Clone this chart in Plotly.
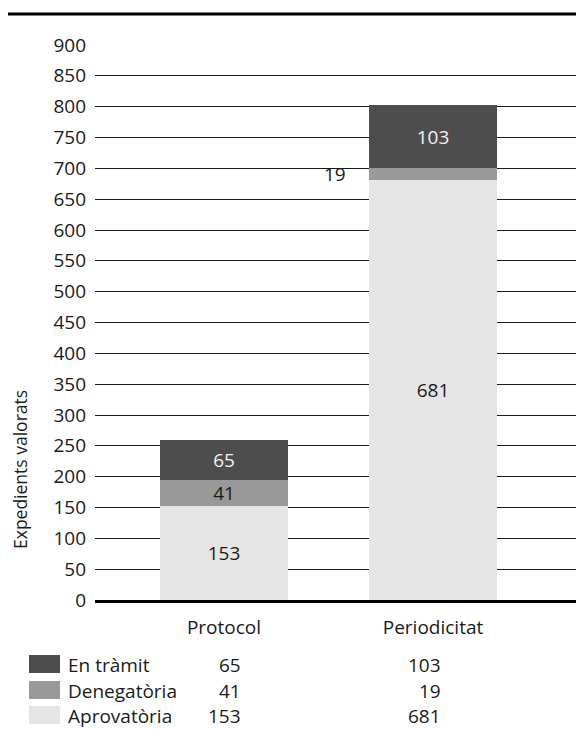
import plotly.graph_objects as go

categories = ["Protocol", "Periodicitat"]
series_names = ["Aprovatòria", "Denegatòria", "En tràmit"]
aprovatoria = [153, 681]
denegatoria = [41, 19]
en_tramit = [65, 103]
series_values = [aprovatoria, denegatoria, en_tramit]
series_colors = ["#e5e5e5", "#999999", "#4d4d4d"]
text_colors = ["#1a1a1a", "#1a1a1a", "#f2f2f2"]
y_ticks = list(range(0, 901, 50))

# page body has an 8px margin: figure is placed at (8, 8)
OFF = 8
PAGE_W, PAGE_H = 584, 729
W, H = PAGE_W - OFF, PAGE_H - OFF
PL, PT, PB = 95, 45, 600          # plot-area edges in page pixels
L, T = PL - OFF, PT - OFF
B = H - (PB - OFF)
R = 0
PW, PH = PAGE_W - PL, PB - PT
FONT = "Open Sans"
FS = 19
BAR_W = 0.608
X0_PX, X_UNIT = 224, 209


def xp(px):
    return (px - PL) / PW


def yp(py):
    return (PB - py) / PH


x_idx = list(range(len(categories)))
fig = go.Figure()
for name, vals, col, tcol in zip(series_names, series_values, series_colors, text_colors):
    fig.add_trace(go.Bar(
        x=x_idx, y=vals, name=name, width=BAR_W,
        marker=dict(color=col, line=dict(width=0)),
        text=[str(v) if v >= 30 else "" for v in vals],
        textposition="inside", insidetextanchor="middle",
        textangle=0, constraintext="none",
        textfont=dict(family=FONT, size=FS, color=tcol),
        hoverinfo="skip", showlegend=False,
    ))

annotations = []
shapes = []
for s, vals in enumerate(series_values):
    for i, v in enumerate(vals):
        if v < 30:
            base = sum(series_values[k][i] for k in range(s))
            annotations.append(dict(
                x=i - BAR_W / 2, y=base + v / 2, xref="x", yref="y",
                text=str(v), showarrow=False, xanchor="right", xshift=-21,
                font=dict(family=FONT, size=FS, color="#1a1a1a")))

annotations.append(dict(
    x=xp(20), y=yp(470), xref="paper", yref="paper", text="Expedients valorats",
    textangle=-90, showarrow=False, xanchor="center", yanchor="middle",
    font=dict(family=FONT, size=17.5, color="#1a1a1a")))

row_y = {"En tràmit": 665, "Denegatòria": 691, "Aprovatòria": 716}
col_right = [243, 443]
for name, vals, col in zip(series_names, series_values, series_colors):
    cy = row_y[name]
    shapes.append(dict(type="rect", xref="paper", yref="paper",
                       x0=xp(29), x1=xp(60), y0=yp(cy - 1 - 9), y1=yp(cy - 1 + 9),
                       fillcolor=col, line=dict(width=0)))
    annotations.append(dict(x=xp(66), y=yp(cy), xref="paper", yref="paper",
                            text=name, showarrow=False, xanchor="left", yanchor="middle",
                            font=dict(family=FONT, size=FS, color="#1a1a1a")))
    for i, v in enumerate(vals):
        annotations.append(dict(x=xp(col_right[i]), y=yp(cy), xref="paper", yref="paper",
                                text=str(v), showarrow=False, xanchor="right", yanchor="middle",
                                font=dict(family=FONT, size=FS, color="#1a1a1a")))

shapes.append(dict(type="line", xref="paper", yref="paper",
                   x0=xp(OFF), x1=xp(PAGE_W), y0=yp(14), y1=yp(14),
                   line=dict(color="#000000", width=3)))

fig.update_layout(
    width=W, height=H,
    margin=dict(l=L, r=R, t=T, b=B, pad=0),
    paper_bgcolor="white", plot_bgcolor="white",
    barmode="stack", bargap=0,
    font=dict(family=FONT, size=FS, color="#1a1a1a"),
    annotations=annotations, shapes=shapes,
    xaxis=dict(
        range=[(PL - X0_PX) / X_UNIT, (PAGE_W - X0_PX) / X_UNIT],
        tickvals=x_idx, ticktext=categories,
        showgrid=False, zeroline=False,
        showline=True, linecolor="#000000", linewidth=2.5,
        ticks="", ticklabelstandoff=8,
        tickfont=dict(family=FONT, size=FS, color="#1a1a1a"),
    ),
    yaxis=dict(
        range=[0, 900], tickvals=y_ticks,
        showgrid=True, gridcolor="#1a1a1a", gridwidth=1,
        zeroline=False, showline=False, ticks="",
        ticklabelstandoff=8,
        tickfont=dict(family=FONT, size=FS, color="#1a1a1a"),
    ),
)

fig.write_html("out.html")
